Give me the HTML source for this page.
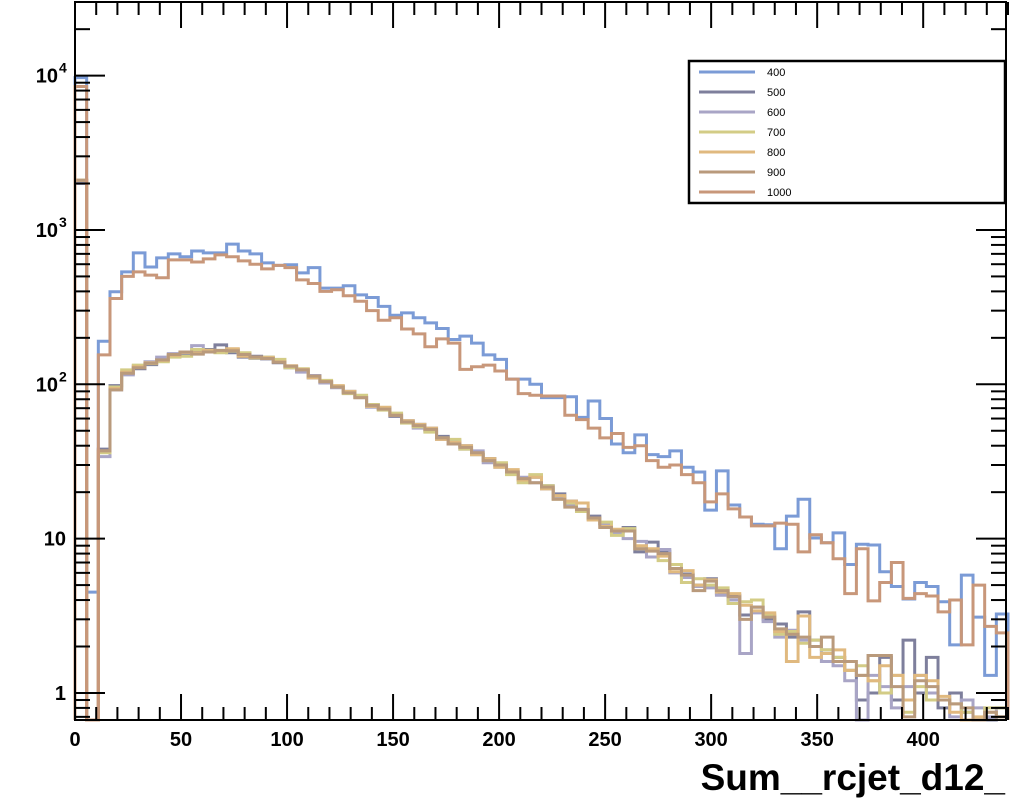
<!DOCTYPE html>
<html><head><meta charset="utf-8"><style>
body{margin:0;background:#fff;}
svg{display:block;font-family:"Liberation Sans",Arial,sans-serif;}
</style></head><body>
<svg id="c" width="1011" height="802" viewBox="0 0 1011 802">
<rect x="0" y="0" width="1011" height="802" fill="#fff"/>
<g id="series"></g><g id="axes"></g><g id="legend"></g>
<text x="1005" y="790" text-anchor="end" font-size="37" font-weight="bold">Sum__rcjet_d12_</text>
</svg>
<script>
const labels=["400","500","600","700","800","900","1000"];
const colors=["#7b9bd6","#7e7f9c","#a9a5c6","#d3cc86","#e0b97f","#b99a7c","#c8977a"];
const s400=[9700,4.5,190,398,535,710,575,660,700,670,730,710,710,810,730,700,612,590,595,527,570,420,420,435,380,365,320,280,290,270,250,230,195,205,185,155,145,108,108,100,82,82,83,61,78,60,41,36,47,35,34,37,29,27,15.3,27.5,16.5,13.8,12.4,12.3,8.6,14,18,10.1,9.4,10.9,6.8,9.2,9.1,6.1,4.9,4.06,5.2,4.9,3.9,2.05,5.8,3.1,1.3,3.25];
const s1000=[8500,0,155,360,500,535,510,490,640,640,620,650,690,670,630,600,560,590,570,475,450,400,410,375,345,300,260,270,228,212,175,197,185,125,130,133,122,108,87,85,84,84,63,59,52,45,48,39,40,32,29,30,26,23,17.3,19.5,15.6,13.8,12.1,12.1,12.6,12.4,8.2,10.6,9.4,7.4,4.4,8.6,3.95,5.2,7.0,4.1,4.4,4.25,3.35,4.0,2.05,5.0,2.7,2.45];
const s500=[2100,0,38,98,118,126,134,145,152,158,162,168,180,160,150,152,146,138,128,122,110,103,97,90,82,74,70,62,58,55,50,46,41,40,35,33,30,27,24,25,22,19.5,17.5,15.5,14,12.5,11,11.8,8.2,9.5,8.3,6.4,5.9,5.0,5.5,4.4,4.3,3.2,3.6,3.0,2.8,2.3,3.35,2.2,1.9,1.7,1.4,0.9,1.0,1.7,0.9,2.2,1.0,1.7,0.8,1.0,0.75,0,0.6,0.7];
const s600=[2000,0,34,92,115,132,140,150,158,160,178,163,165,168,158,147,150,141,131,120,114,102,95,88,84,71,70,64,57,52,52,44,43,38,37,31,29,27,25,23,21,18.2,16.5,15.2,13.4,12.5,10.8,10,9.6,7.6,8.5,6.0,5.6,4.9,4.8,4.3,4.0,1.8,3.3,2.9,2.3,2.55,2.2,2.0,1.6,1.5,1.2,0,1.3,1.1,0.8,1.1,1.3,1.0,0.9,0.7,0.9,0.8,0.7,0.8];
const s700=[2100,0,36,96,124,133,136,140,150,152,168,166,160,164,160,148,150,145,128,126,112,106,97,87,85,74,68,65,56,53,49,45,44,38,35,32,31,26,23,26,22,18,17,15,13.5,12.8,10.5,11.6,8.6,8.5,7.2,6.8,5.2,5.5,5.0,4.8,3.8,3.9,4.0,3.2,2.4,2.5,2.1,2.2,1.9,1.7,1.4,1.5,1.2,1.0,1.3,0.75,1.1,0.9,0.9,0.85,0.75,0,0.8,0.8];
const s800=[2100,0,37,94,120,130,138,143,154,161,160,166,165,170,152,150,149,140,132,125,110,104,98,90,82,72,71,63,58,55,52,44,42,40,35,33,29,28,24,25,21,19,17.5,17,13.2,12,11.5,11.2,9.0,8.6,7.7,6.1,6.2,5.0,5.4,4.5,4.4,3.7,3.4,3.3,2.5,1.6,3.15,1.7,1.8,1.9,1.4,1.3,1.2,1.5,1.3,0.9,1.3,1.2,0.95,0.75,0,0.7,0.75,0.7];
const s900=[2100,0,37,92,118,128,137,144,156,162,157,162,166,165,156,150,147,139,131,124,113,104,96,88,82,73,69,63,57,54,51,45,41,39,36,32,30,27,24.5,23,21.6,18,16,15.4,13.6,11.8,11.2,11.2,8.6,8.3,8.0,6.4,5.8,4.6,5.3,4.6,4.2,3.0,3.6,3.1,2.6,2.4,2.3,2.0,2.3,1.6,1.6,1.3,1.75,1.75,1.1,0.7,1.2,1.1,0.9,0.85,0.8,0,0.75,0.7];
const allSeries=[s400,s500,s600,s700,s800,s900,s1000];
const X0=75,X1=1008,XMAX=440,NB=80;
const YB=720,YT=2,LMIN=Math.log10(0.668),LMAX=Math.log10(30000);
const xs=v=>X0+(v/XMAX)*(X1-X0);
const ys=v=>{if(v<=0)return YB;const y=YB-(Math.log10(v)-LMIN)/(LMAX-LMIN)*(YB-YT);return Math.max(YT,Math.min(YB,y));};
const NS="http://www.w3.org/2000/svg";
const mk=(t,a,p)=>{const e=document.createElementNS(NS,t);for(const k in a)e.setAttribute(k,a[k]);p.appendChild(e);return e;};
const gs=document.getElementById('series');
allSeries.forEach((d,i)=>{
  let p="M"+xs(0)+","+YB;
  for(let b=0;b<NB;b++){const y=ys(d[b]);p+=" L"+xs(b*5.5)+","+y+" L"+xs((b+1)*5.5)+","+y;}
  p+=" L"+xs(NB*5.5)+","+YB;
  const e=mk('path',{d:p,fill:"none",stroke:colors[i],"stroke-width":3},gs);
  
  
});
const ga=document.getElementById('axes');
const fr=mk('rect',{x:X0,y:YT,width:X1-X0-2,height:YB-YT,fill:"none",stroke:"#000","stroke-width":2},ga);


const xt=[0,50,100,150,200,250,300,350,400];
for(let v=0;v<=440;v+=10){const x=xs(v),L=(v%50==0)?26:13;
  mk('line',{x1:x,y1:YB,x2:x,y2:YB-L,stroke:"#000","stroke-width":2},ga);
  mk('line',{x1:x,y1:YT,x2:x,y2:YT+L,stroke:"#000","stroke-width":2},ga);}
xt.forEach(v=>{const t=mk('text',{x:xs(v),y:746,"text-anchor":"middle","font-size":20,"font-weight":"bold"},ga);t.textContent=v;
  
  });
for(let e=-1;e<=4;e++){for(let m=1;m<10;m++){const v=m*Math.pow(10,e);if(v<0.668||v>30000)continue;const y=ys(v),L=m==1?30:15;
  mk('line',{x1:X0,y1:y,x2:X0+L,y2:y,stroke:"#000","stroke-width":2},ga);
  mk('line',{x1:X1-2,y1:y,x2:X1-2-L,y2:y,stroke:"#000","stroke-width":2},ga);}}
const yl=[[1,"1",""],[10,"10",""],[100,"10","2"],[1000,"10","3"],[10000,"10","4"]];
yl.forEach(([v,b,s])=>{const t=mk('text',{x:s?58:66,y:ys(v)+7,"text-anchor":"end","font-size":20,"font-weight":"bold"},ga);t.textContent=b;
  
  
  if(s){const u=mk('text',{x:59,y:ys(v)-3,"font-size":14,"font-weight":"bold"},ga);u.textContent=s;}});
const gl=document.getElementById('legend');
const lb=mk('rect',{x:689,y:61,width:316,height:142,fill:"#fff",stroke:"#000","stroke-width":2.5},gl);


labels.forEach((l,i)=>{const y=72+i*20;
  const ln=mk('line',{x1:699,y1:y,x2:755,y2:y,stroke:colors[i],"stroke-width":3},gl);
  
  
  const t=mk('text',{x:767,y:y+4,"font-size":11},gl);t.textContent=l;
  
  });
</script>
</body></html>
